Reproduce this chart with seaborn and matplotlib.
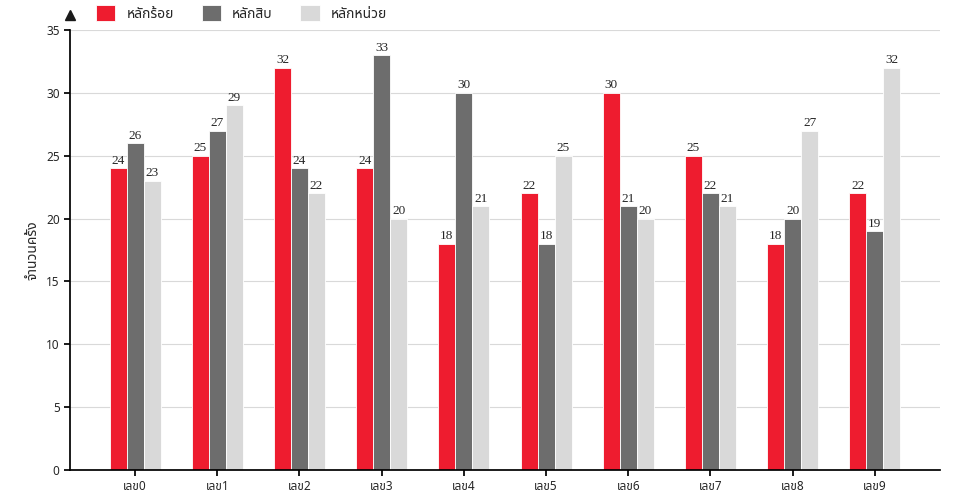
import pandas as pd
import matplotlib
matplotlib.use("Agg")
import matplotlib.pyplot as plt
import seaborn as sns

categories = ["เลข0", "เลข1", "เลข2", "เลข3", "เลข4", "เลข5", "เลข6", "เลข7", "เลข8", "เลข9"]
series_names = ["หลักร้อย", "หลักสิบ", "หลักหน่วย"]
hundreds = [24, 25, 32, 24, 18, 22, 30, 25, 18, 22]
tens = [26, 27, 24, 33, 30, 18, 21, 22, 20, 19]
units = [23, 29, 22, 20, 21, 25, 20, 21, 27, 32]
colors = ["#EE1C2F", "#6D6D6D", "#D9D9D9"]

rows = []
for name, vals in zip(series_names, [hundreds, tens, units]):
    for c, v in zip(categories, vals):
        rows.append({"cat": c, "series": name, "value": v})
df = pd.DataFrame(rows)

sns.set_theme(style="white")
plt.rcParams["font.family"] = ["Noto Sans Thai", "Tahoma", "Noto Sans", "DejaVu Sans"]

fig = plt.figure(figsize=(9.6, 5), dpi=100)
ax = fig.add_axes([0.073, 0.06, 0.906, 0.88])
sns.barplot(data=df, x="cat", y="value", hue="series", palette=colors,
            width=0.62, saturation=1, edgecolor="white", linewidth=0.6,
            ax=ax, legend=True)

for cont in ax.containers:
    ax.bar_label(cont, fontsize=9.5, family="Liberation Serif", padding=1)

ax.set_ylim(0, 35)
ax.set_yticks(range(0, 36, 5))
ax.yaxis.grid(True, color="#D9D9D9", lw=0.8)
ax.set_axisbelow(True)
ax.set_xlabel("")
ax.set_ylabel("จำนวนครั้ง", fontsize=10)
ax.tick_params(axis="both", labelsize=8.5, length=4, left=True, bottom=True, color="black")
for s in ["top", "right"]:
    ax.spines[s].set_visible(False)
for s in ["left", "bottom"]:
    ax.spines[s].set_color("black")
ax.plot(0, 1.035, "^k", transform=ax.transAxes, clip_on=False, ms=7)

ax.legend(loc="lower left", bbox_to_anchor=(0.02, 1.0), ncol=3, frameon=False,
          fontsize=10, handlelength=1.4, handleheight=1.4, borderaxespad=0.2)

fig.savefig("out.png", dpi=100)
